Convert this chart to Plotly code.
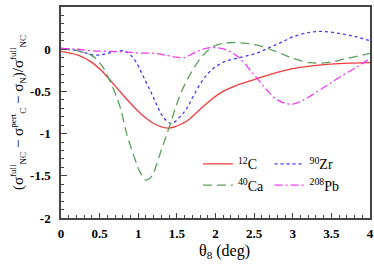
import plotly.graph_objects as go

# ---- data ----
C_theta = [0, 0.22, 0.39, 0.52, 0.62, 0.8, 0.96, 1.09, 1.2, 1.38, 1.5, 1.63, 1.84, 2.06, 2.27, 2.5, 2.7, 3.0, 3.44, 4.0]
C_val = [-0.025, -0.07, -0.15, -0.25, -0.35, -0.54, -0.70, -0.81, -0.88, -0.935, -0.91, -0.85, -0.68, -0.52, -0.43, -0.36, -0.30, -0.23, -0.18, -0.16]

Ca_theta = [0, 0.15, 0.26, 0.39, 0.47, 0.54, 0.62, 0.7, 0.77, 0.85, 0.96, 1.02, 1.10, 1.17, 1.24, 1.30, 1.35, 1.41, 1.48, 1.56, 1.69, 1.84, 1.97, 2.14, 2.32, 2.53, 2.79, 3.01, 3.22, 3.44, 3.70, 4.0]
Ca_val = [0.0, -0.01, -0.03, -0.07, -0.13, -0.21, -0.35, -0.52, -0.70, -1.0, -1.31, -1.45, -1.55, -1.51, -1.36, -1.19, -1.06, -0.90, -0.70, -0.50, -0.27, -0.07, 0.03, 0.075, 0.075, 0.05, -0.03, -0.11, -0.16, -0.16, -0.11, -0.05]

Zr_theta = [0, 0.18, 0.3, 0.43, 0.56, 0.69, 0.82, 0.9, 0.97, 1.09, 1.17, 1.24, 1.32, 1.43, 1.54, 1.63, 1.71, 1.84, 1.97, 2.14, 2.36, 2.55, 2.7, 2.85, 3.0, 3.22, 3.39, 3.61, 3.83, 4.0]
Zr_val = [0.01, -0.01, -0.04, -0.07, -0.06, -0.03, -0.02, -0.07, -0.15, -0.37, -0.52, -0.66, -0.80, -0.88, -0.80, -0.70, -0.56, -0.36, -0.23, -0.14, -0.09, -0.04, 0.02, 0.08, 0.145, 0.20, 0.21, 0.185, 0.145, 0.10]

Pb_theta = [0, 0.2, 0.43, 0.78, 1.0, 1.22, 1.35, 1.5, 1.6, 1.71, 1.84, 1.97, 2.14, 2.32, 2.45, 2.57, 2.70, 2.80, 2.90, 3.0, 3.1, 3.2, 3.39, 3.61, 3.83, 4.0]
Pb_val = [0.01, 0.0, -0.02, -0.03, -0.045, -0.05, -0.07, -0.095, -0.10, -0.05, 0.0, 0.02, -0.01, -0.11, -0.25, -0.38, -0.52, -0.60, -0.64, -0.65, -0.62, -0.57, -0.46, -0.33, -0.21, -0.11]

names = ["<sup>12</sup>C", "<sup>90</sup>Zr", "<sup>40</sup>Ca", "<sup>208</sup>Pb"]
x_ticks = [0, 0.5, 1, 1.5, 2, 2.5, 3, 3.5, 4]
x_tick_text = ["0", "0.5", "1", "1.5", "2", "2.5", "3", "3.5", "4"]
y_ticks = [0.5, 0, -0.5, -1, -1.5, -2]
y_tick_text = ["0.5", "0", "-0.5", "-1", "-1.5", "-2"]
x_title = "θ<sub>8</sub> (deg)"

# (x, y, name, colour, dash, legend id)
series = [
    (C_theta, C_val, names[0], "#f03c3c", "solid", "legend"),
    (Zr_theta, Zr_val, names[1], "#3c3cf0", "3px,3px", "legend2"),
    (Ca_theta, Ca_val, names[2], "#5aa05a", "9px,5px", "legend"),
    (Pb_theta, Pb_val, names[3], "#f03cf0", "8px,3px,2px,3px", "legend2"),
]

fig = go.Figure()
for xs, ys, nm, col, dash, lg in series:
    fig.add_trace(go.Scatter(x=xs, y=ys, name=nm, mode="lines", legend=lg,
                             line=dict(color=col, width=1.3, dash=dash, shape="spline", smoothing=1.0)))

serif = "Liberation Serif"
small = '<span style="font-size:9px">%s</span>'
ytitle = ("(σ<sup>" + small % "full" + "</sup><sub>" + small % "NC" + "</sub> − σ<sup>" + small % "pert"
          + "</sup><sub>" + small % "C" + "</sub> − σ<sub>" + small % "N" + "</sub>)/σ<sup>" + small % "full"
          + "</sup><sub>" + small % "NC" + "</sub>")

leg_common = dict(orientation="v", xanchor="left", yanchor="top", itemwidth=30,
                  font=dict(family=serif, size=14), bgcolor="rgba(0,0,0,0)", tracegroupgap=0)

fig.update_layout(
    width=374, height=266,
    margin=dict(l=61, r=4, t=7, b=48),
    paper_bgcolor="white", plot_bgcolor="white",
    font=dict(family=serif, color="black"),
    legend=dict(x=0.443, y=0.33, **leg_common),
    legend2=dict(x=0.675, y=0.33, **leg_common),
    xaxis=dict(range=[0, 4], tickvals=x_ticks, ticktext=x_tick_text, automargin=False,
               ticks="inside", ticklen=5, tickwidth=1, tickcolor="#444",
               minor=dict(dtick=0.1, ticks="inside", ticklen=3, tickcolor="#444", showgrid=False),
               showline=True, linecolor="#444", linewidth=1.5, mirror=True,
               showgrid=False, zeroline=False,
               tickfont=dict(family=serif, size=13, weight="bold"), ticklabelstandoff=3),
    yaxis=dict(range=[-2, 0.5], tickvals=y_ticks, ticktext=y_tick_text, automargin=False,
               ticks="inside", ticklen=6, tickwidth=1, tickcolor="#444",
               minor=dict(dtick=0.1, ticks="inside", ticklen=3, tickcolor="#444", showgrid=False),
               showline=True, linecolor="#444", linewidth=1.5, mirror=True,
               showgrid=False, zeroline=False,
               tickfont=dict(family=serif, size=13, weight="bold"), ticklabelstandoff=6,
               title=dict(text=ytitle, font=dict(family=serif, size=15), standoff=3)),
    annotations=[dict(text=x_title, xref="paper", yref="paper", x=0.53, y=-0.16,
                      xanchor="center", yanchor="middle", showarrow=False,
                      font=dict(family=serif, size=16))],
)

fig.write_html("out.html", config={"displayModeBar": False},
               post_script="document.body.style.margin='0';")
